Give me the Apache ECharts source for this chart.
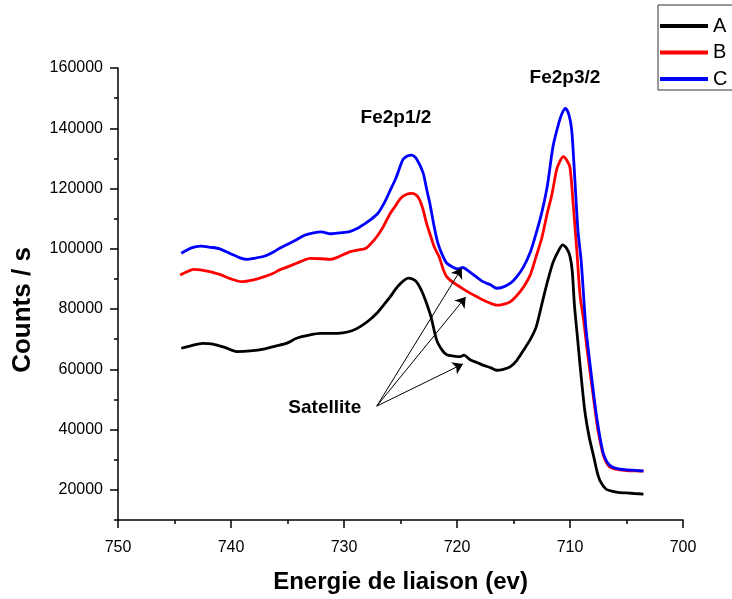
<!DOCTYPE html>
<html>
<head>
<meta charset="utf-8">
<script src="https://cdn.jsdelivr.net/npm/echarts@6/dist/echarts.min.js"></script>
<style>html,body{margin:0;padding:0;background:#fff;}#chart{width:732px;height:599px;}</style>
</head>
<body>
<div id="chart"></div>
<script>
// ---- Data ----
const energyA = [744.4, 743.5, 742.5, 741.6, 740.5, 739.5, 738.3, 737.0, 736.0, 735.1, 734.2, 733.0, 732.1, 731.2, 730.1, 729.3, 728.6, 727.8, 727.1, 726.5, 725.9, 725.4, 725.0, 724.6, 724.3, 723.9, 723.6, 723.2, 722.8, 722.3, 721.8, 721.3, 720.9, 720.3, 719.7, 719.4, 718.8, 718.2, 717.7, 717.0, 716.5, 715.9, 715.3, 714.7, 714.1, 713.5, 713.0, 712.5, 712.0, 711.5, 711.0, 710.65, 710.3, 710.0, 709.8, 709.6, 709.35, 709.1, 708.7, 708.3, 707.9, 707.6, 707.3, 706.8, 706.2, 705.6, 705.0, 704.3, 703.5];
const countsA = [67000, 67900, 68600, 68400, 67200, 65900, 66100, 66800, 67800, 68600, 70300, 71400, 71900, 71900, 72100, 72800, 74100, 76200, 78600, 81300, 84100, 86800, 88500, 89800, 90300, 89900, 89100, 86600, 83000, 77400, 69700, 66300, 64800, 64400, 64200, 64700, 63100, 62200, 61400, 60500, 59700, 60000, 60800, 63000, 66400, 70000, 74000, 81500, 89000, 95500, 99500, 101300, 100200, 97500, 92500, 81000, 71000, 61000, 46500, 37500, 31000, 26000, 22700, 20200, 19500, 19100, 19000, 18800, 18600];

const energyB = [744.5, 744.0, 743.3, 742.7, 742.0, 741.0, 740.0, 739.1, 738.0, 737.1, 736.3, 735.7, 735.0, 734.2, 733.5, 733.0, 732.0, 731.2, 730.5, 729.5, 728.8, 728.1, 727.6, 727.1, 726.5, 725.9, 725.4, 725.0, 724.5, 724.0, 723.6, 723.3, 723.0, 722.7, 722.4, 722.0, 721.6, 721.2, 720.9, 720.4, 720.0, 719.5, 718.8, 718.2, 717.7, 717.1, 716.5, 716.0, 715.3, 714.7, 714.1, 713.5, 713.0, 712.5, 712.0, 711.6, 711.2, 710.9, 710.6, 710.3, 710.0, 709.7, 709.4, 709.1, 708.8, 708.5, 708.2, 707.9, 707.6, 707.3, 707.05, 706.8, 706.5, 706.0, 705.0, 704.2, 703.5];
const countsB = [91300, 92200, 93200, 93000, 92500, 91500, 90000, 89100, 89700, 90700, 91800, 93000, 94000, 95200, 96300, 96800, 96700, 96500, 97300, 99000, 99600, 100100, 101800, 104000, 107500, 111800, 114500, 116700, 118000, 118400, 117800, 116200, 113000, 108500, 105000, 100500, 97500, 93000, 90700, 89000, 88000, 86800, 85200, 84000, 83000, 82000, 81300, 81500, 82400, 84500, 87400, 91500, 97400, 103500, 112000, 118000, 126000, 129000, 130600, 129500, 127000, 114000, 99600, 84100, 76500, 67000, 58500, 50000, 41500, 35500, 31500, 29200, 27600, 26900, 26400, 26300, 26200];

const energyC = [744.4, 743.5, 742.7, 741.8, 741.0, 740.0, 739.2, 738.6, 738.0, 737.0, 736.2, 735.7, 735.0, 734.2, 733.5, 732.7, 732.0, 731.2, 730.4, 729.5, 728.8, 728.2, 727.7, 727.0, 726.4, 725.9, 725.4, 724.8, 724.4, 724.0, 723.6, 723.0, 722.7, 722.4, 722.0, 721.7, 721.3, 720.9, 720.4, 719.9, 719.5, 719.0, 718.4, 717.7, 717.0, 716.5, 716.0, 715.3, 714.7, 714.1, 713.5, 713.0, 712.5, 712.0, 711.5, 711.0, 710.7, 710.4, 710.1, 709.85, 709.6, 709.3, 709.0, 708.6, 708.2, 707.9, 707.6, 707.3, 707.05, 706.8, 706.5, 706.0, 705.0, 704.2, 703.5];
const countsC = [98500, 100300, 100900, 100500, 100000, 98300, 97000, 96500, 96800, 97600, 99000, 100200, 101500, 103000, 104500, 105300, 105600, 105000, 105300, 105700, 106800, 108200, 109500, 111800, 115500, 119500, 123500, 129500, 130800, 131100, 130000, 125200, 120000, 115000, 107000, 102000, 98000, 95200, 94000, 93300, 93800, 92700, 91000, 89100, 88000, 86900, 87200, 88500, 90800, 94100, 99000, 105100, 112000, 121000, 134000, 141600, 145000, 146600, 144500, 139400, 125000, 106200, 95500, 74000, 60900, 51500, 43200, 36500, 32100, 29800, 28200, 27200, 26600, 26500, 26300];

const seriesNames = ['A', 'B', 'C'];
const xTickLabels = [750, 740, 730, 720, 710, 700];
const yTickLabels = [20000, 40000, 60000, 80000, 100000, 120000, 140000, 160000];

// annotations (data coordinates)
const peakLabels = [
  { text: 'Fe2p1/2', at: [725.4, 143600] },
  { text: 'Fe2p3/2', at: [710.45, 156600] },
  { text: 'Satellite', at: [731.7, 47200] }
];
const arrowStart = [727.1, 47800];
const arrowTips = [[719.58, 93600], [719.23, 84000], [719.47, 61800]];

// ---- Chart ----
const FONT = 'Liberation Sans, Arial, Helvetica, sans-serif';
const chart = echarts.init(document.getElementById('chart'), null, { renderer: 'canvas' });
const zip = (xs, ys) => xs.map((x, i) => [x, ys[i]]);
const colors = ['#000000', '#ff0000', '#0000ff'];
const dataSets = [zip(energyA, countsA), zip(energyB, countsB), zip(energyC, countsC)];

const series = seriesNames.map((name, i) => ({
  name: name,
  type: 'line',
  data: dataSets[i],
  showSymbol: false,
  symbol: 'none',
  smooth: 0.25,
  lineStyle: { color: colors[i], width: 2.8 },
  itemStyle: { color: colors[i] },
  z: 2 + i,
  silent: true,
  animation: false
}));

series[0].markLine = {
  silent: true,
  animation: false,
  symbol: ['none', 'arrow'],
  symbolSize: 10,
  label: { show: false },
  lineStyle: { color: '#000', width: 1, type: 'solid' },
  itemStyle: { color: '#000' },
  emphasis: { disabled: true },
  data: arrowTips.map(t => [{ coord: arrowStart }, { coord: t }])
};
series[0].markPoint = {
  silent: true,
  animation: false,
  symbol: 'rect',
  symbolSize: 1,
  itemStyle: { color: 'rgba(0,0,0,0)' },
  data: peakLabels.map(p => ({
    coord: p.at,
    label: {
      show: true, position: 'inside', formatter: p.text,
      color: '#000', fontWeight: 'bold', fontSize: 19, fontFamily: FONT
    }
  }))
};

chart.setOption({
  backgroundColor: '#ffffff',
  animation: false,
  grid: { left: 118, right: 49, top: 68, bottom: 79, containLabel: false },
  legend: {
    data: seriesNames,
    orient: 'vertical',
    left: 658,
    top: 5,
    padding: [11, 30, 1, 2],
    itemWidth: 48,
    itemHeight: 4,
    itemGap: 6.5,
    icon: 'rect',
    borderColor: '#333',
    borderWidth: 1,
    backgroundColor: '#fff',
    textStyle: { fontSize: 20, lineHeight: 20, color: '#000', fontFamily: FONT }
  },
  xAxis: {
    type: 'value',
    inverse: true,
    min: 700,
    max: 750,
    interval: 10,
    name: 'Energie de liaison (ev)',
    nameLocation: 'middle',
    nameGap: 50,
    nameTextStyle: { fontSize: 24, fontWeight: 'bold', color: '#000', fontFamily: FONT },
    axisLine: { show: true, lineStyle: { color: '#000', width: 1.5 } },
    axisTick: { show: true, length: 8, lineStyle: { color: '#000', width: 1.5 } },
    minorTick: { show: true, splitNumber: 2, length: 4, lineStyle: { color: '#000', width: 1.5 } },
    axisLabel: {
      margin: 20, fontSize: 16, color: '#000', fontFamily: FONT,
      formatter: v => (xTickLabels.indexOf(v) >= 0 ? String(v) : '')
    },
    splitLine: { show: false },
    minorSplitLine: { show: false }
  },
  yAxis: [
    {
      type: 'value',
      min: 10000,
      max: 160000,
      interval: 10000,
      name: 'Counts / s',
      nameLocation: 'middle',
      nameGap: 82,
      nameTextStyle: { fontSize: 26, fontWeight: 'bold', color: '#000', fontFamily: FONT, padding: [0, 32, 0, 0] },
      axisLine: { show: true, onZero: false, lineStyle: { color: '#000', width: 1.5 } },
      axisTick: { show: true, length: 4, lineStyle: { color: '#000', width: 1.5 } },
      axisLabel: {
        margin: 15, fontSize: 16, color: '#000', fontFamily: FONT,
        formatter: v => (yTickLabels.indexOf(v) >= 0 ? String(v) : '')
      },
      splitLine: { show: false }
    },
    {
      type: 'value',
      min: 10000,
      max: 160000,
      position: 'left',
      axisLine: { show: false },
      axisTick: { show: true, length: 8, customValues: yTickLabels, lineStyle: { color: '#000', width: 1.5 } },
      axisLabel: { show: false },
      splitLine: { show: false }
    }
  ],
  series: series
});
</script>
</body>
</html>
